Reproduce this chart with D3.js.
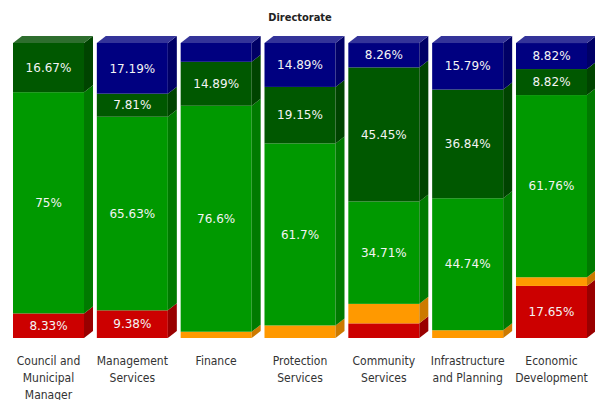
<!DOCTYPE html>
<html>
<head>
<meta charset="utf-8">
<script src="https://cdn.jsdelivr.net/npm/d3@7"></script>
<style>
  body { margin: 0; background: #fff; }
  svg { display: block; }
</style>
</head>
<body>
<div id="chart"></div>
<script>
// categories (x axis), each split into lines as shown
const categories = ['Council and Municipal Manager', 'Management Services', 'Finance',
  'Protection Services', 'Community Services', 'Infrastructure and Planning', 'Economic Development'];
const categoryLines = [
  ['Council and', 'Municipal', 'Manager'],
  ['Management', 'Services'],
  ['Finance'],
  ['Protection', 'Services'],
  ['Community', 'Services'],
  ['Infrastructure', 'and Planning'],
  ['Economic', 'Development']
];

// series, bottom to top (percent of each directorate)
const seriesNames = ['red', 'orange', 'green', 'darkgreen', 'navy'];
const redValues       = [8.33, 9.38, 0, 0, 4.96, 0, 17.65];
const orangeValues    = [0, 0, 2.13, 4.26, 6.61, 2.63, 2.94];
const greenValues     = [75, 65.63, 76.6, 61.7, 34.71, 44.74, 61.76];
const darkGreenValues = [16.67, 7.81, 14.89, 19.15, 45.45, 36.84, 8.82];
const navyValues      = [0, 17.19, 6.38, 14.89, 8.26, 15.79, 8.82];

const colors = {
  red:       { front: '#cc0000', side: '#990000', top: '#d63333' },
  orange:    { front: '#ff9900', side: '#cc7a00', top: '#ffad33' },
  green:     { front: '#009900', side: '#007a00', top: '#33ad33' },
  darkgreen: { front: '#005800', side: '#004400', top: '#2e6e2e' },
  navy:      { front: '#000080', side: '#000066', top: '#333399' }
};

const width = 595;
const height = 400;
const depthX = 9, depthY = 7;

// build a table for d3.stack
const table = categories.map((c, i) => ({
  category: c,
  red: redValues[i],
  orange: orangeValues[i],
  green: greenValues[i],
  darkgreen: darkGreenValues[i],
  navy: navyValues[i]
}));

const stacked = d3.stack().keys(seriesNames)(table);

const svg = d3.select('#chart')
  .append('svg')
  .attr('width', width)
  .attr('height', height)
  .style('font-family', '"DejaVu Sans Condensed", "DejaVu Sans", sans-serif');

const x = d3.scaleBand()
  .domain(categories)
  .range([13, 587])
  .paddingInner(0.153)
  .paddingOuter(0)
  .align(0);

const y = d3.scaleLinear()
  .domain([0, 100])
  .range([338, 43]);

// title
svg.append('text')
  .attr('x', 300)
  .attr('y', 21)
  .attr('text-anchor', 'middle')
  .attr('font-size', '11px')
  .attr('font-weight', 'bold')
  .attr('fill', '#222')
  .text('Directorate');

const bw = x.bandwidth();

// draw each segment: front, side, and top on topmost one
stacked.forEach(layer => {
  const key = layer.key;
  const g = svg.append('g').attr('class', 'series-' + key);
  layer.forEach((d, i) => {
    const v = d[1] - d[0];
    if (v <= 0) return;
    const cat = categories[i];
    const x0 = x(cat), x1 = x0 + bw;
    const yTop = y(d[1]), yBot = y(d[0]);

    g.append('rect')
      .attr('x', x0)
      .attr('y', yTop)
      .attr('width', bw)
      .attr('height', yBot - yTop)
      .attr('fill', colors[key].front);

    g.append('path')
      .attr('d', `M${x1},${yTop} L${x1 + depthX},${yTop - depthY} L${x1 + depthX},${yBot - depthY} L${x1},${yBot} Z`)
      .attr('fill', colors[key].side);

    if (Math.abs(d[1] - 100) < 0.05) {
      g.append('path')
        .attr('d', `M${x0},${yTop} L${x0 + depthX},${yTop - depthY} L${x1 + depthX},${yTop - depthY} L${x1},${yTop} Z`)
        .attr('fill', colors[key].top);
    }
  });
});

// value labels
stacked.forEach(layer => {
  layer.forEach((d, i) => {
    const v = d[1] - d[0];
    if (v < 7) return;
    const cat = categories[i];
    svg.append('text')
      .attr('x', x(cat) + bw / 2)
      .attr('y', (y(d[0]) + y(d[1])) / 2)
      .attr('dy', '0.35em')
      .attr('text-anchor', 'middle')
      .attr('font-family', '"DejaVu Sans", sans-serif')
      .attr('font-size', '12px')
      .attr('fill', '#f4f4f4')
      .text(d3.format('~')(+v.toFixed(2)) + '%');
  });
});

// category labels
const labels = svg.append('g').attr('class', 'x-labels');
categories.forEach((cat, i) => {
  const t = labels.append('text')
    .attr('x', x(cat) + bw / 2)
    .attr('y', 365)
    .attr('text-anchor', 'middle')
    .attr('font-size', '12px')
    .attr('fill', '#333');
  categoryLines[i].forEach((line, j) => {
    t.append('tspan')
      .attr('x', x(cat) + bw / 2)
      .attr('dy', j === 0 ? 0 : 17)
      .text(line);
  });
});
</script>
</body>
</html>
